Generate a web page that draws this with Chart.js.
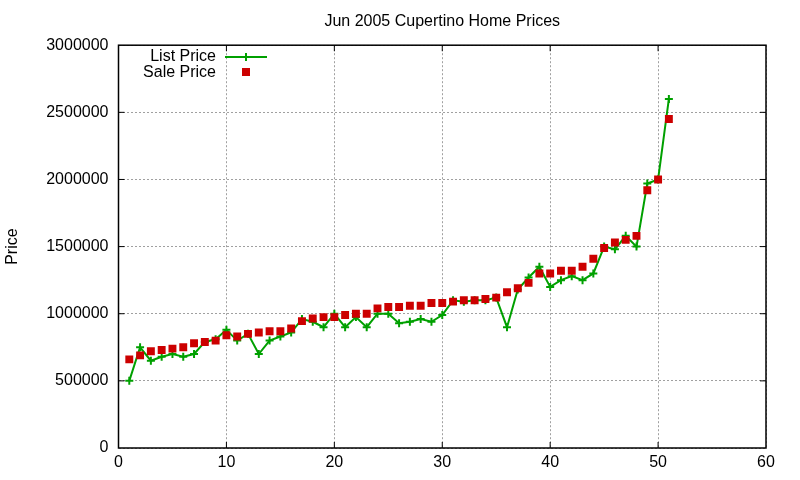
<!DOCTYPE html>
<html>
<head>
<meta charset="utf-8">
<title>Jun 2005 Cupertino Home Prices</title>
<script src="https://cdn.jsdelivr.net/npm/chart.js@4/dist/chart.umd.min.js"></script>
<style>
  html, body { margin: 0; padding: 0; background: #fff; }
  #wrap { width: 800px; height: 480px; }
</style>
</head>
<body>
<div id="wrap"><canvas id="chart" width="800" height="480"></canvas></div>
<script>
// listing index (x) and prices
const houses = [1, 2, 3, 4, 5, 6, 7, 8, 9, 10, 11, 12, 13, 14, 15, 16, 17, 18, 19, 20,
  21, 22, 23, 24, 25, 26, 27, 28, 29, 30, 31, 32, 33, 34, 35, 36, 37, 38, 39, 40,
  41, 42, 43, 44, 45, 46, 47, 48, 49, 50, 51];

const listPrice = [500000, 750000, 650000, 680000, 700000, 680000, 700000, 790000, 810000, 880000,
  800000, 850000, 700000, 800000, 830000, 860000, 960000, 940000, 900000, 1000000,
  900000, 975000, 900000, 1000000, 1000000, 930000, 940000, 960000, 940000, 990000,
  1100000, 1090000, 1100000, 1100000, 1120000, 900000, 1180000, 1270000, 1350000, 1200000,
  1250000, 1280000, 1250000, 1300000, 1500000, 1480000, 1580000, 1500000, 1970000, 2000000,
  2600000];

const salePrice = [660000, 690000, 720000, 730000, 740000, 750000, 780000, 790000, 800000, 840000,
  830000, 850000, 860000, 870000, 870000, 890000, 945000, 965000, 975000, 975000,
  990000, 1000000, 1000000, 1040000, 1050000, 1050000, 1060000, 1060000, 1080000, 1080000,
  1090000, 1100000, 1100000, 1110000, 1120000, 1160000, 1190000, 1230000, 1300000, 1300000,
  1320000, 1320000, 1350000, 1410000, 1490000, 1530000, 1550000, 1580000, 1920000, 2000000,
  2450000];

const xTicks = [0, 10, 20, 30, 40, 50, 60];
const yTicks = [0, 500000, 1000000, 1500000, 2000000, 2500000, 3000000];

const GREEN = '#00a000';
const RED = '#cc0000';

Chart.defaults.font.family = '"Liberation Sans", Arial, sans-serif';
Chart.defaults.font.size = 16;
Chart.defaults.color = '#000';

// gnuplot style frame: full box, inward ticks on all sides, key top-left
const framePlugin = {
  id: 'frame',
  afterDraw(chart) {
    const { ctx, chartArea: a, scales } = chart;
    ctx.save();
    ctx.setLineDash([]);
    ctx.strokeStyle = '#000';
    ctx.lineWidth = 1.5;
    ctx.strokeRect(a.left, a.top, a.right - a.left, a.bottom - a.top);

    ctx.lineWidth = 1;
    ctx.beginPath();
    xTicks.slice(1, -1).forEach(v => {
      const px = scales.x.getPixelForValue(v);
      ctx.moveTo(px, a.bottom); ctx.lineTo(px, a.bottom - 6);
      ctx.moveTo(px, a.top); ctx.lineTo(px, a.top + 6);
    });
    yTicks.slice(1, -1).forEach(v => {
      const py = scales.y.getPixelForValue(v);
      ctx.moveTo(a.left, py); ctx.lineTo(a.left + 6, py);
      ctx.moveTo(a.right, py); ctx.lineTo(a.right - 6, py);
    });
    ctx.stroke();

    // key
    ctx.font = '16px "Liberation Sans", Arial, sans-serif';
    ctx.fillStyle = '#000';
    ctx.textAlign = 'right';
    ctx.textBaseline = 'alphabetic';
    ctx.fillText('List Price', 216, 61);
    ctx.fillText('Sale Price', 216, 77);

    ctx.strokeStyle = GREEN;
    ctx.lineWidth = 2;
    ctx.beginPath();
    ctx.moveTo(225, 57); ctx.lineTo(267, 57);
    ctx.moveTo(246, 53); ctx.lineTo(246, 61);
    ctx.stroke();

    ctx.fillStyle = RED;
    ctx.fillRect(242, 68, 8, 8);
    ctx.restore();
  }
};

new Chart(document.getElementById('chart'), {
  type: 'line',
  data: {
    datasets: [
      {
        label: 'List Price',
        data: houses.map((h, i) => ({ x: h, y: listPrice[i] })),
        borderColor: GREEN,
        backgroundColor: GREEN,
        borderWidth: 2,
        pointStyle: 'cross',
        pointRadius: 4,
        pointBorderWidth: 2,
        tension: 0,
        order: 1
      },
      {
        label: 'Sale Price',
        data: houses.map((h, i) => ({ x: h, y: salePrice[i] })),
        showLine: false,
        borderColor: RED,
        backgroundColor: RED,
        pointStyle: 'rect',
        pointRadius: 5.6,
        pointBorderWidth: 0,
        order: 0
      }
    ]
  },
  options: {
    responsive: false,
    animation: false,
    events: [],
    layout: { padding: { left: 0, right: 34, top: 0, bottom: 0 } },
    plugins: {
      legend: { display: false },
      tooltip: { enabled: false },
      title: {
        display: true,
        text: 'Jun 2005 Cupertino Home Prices',
        fullSize: false,
        font: { size: 16, weight: 'normal' },
        padding: { top: 12, bottom: 14 }
      }
    },
    scales: {
      x: {
        type: 'linear',
        min: 0,
        max: 60,
        afterFit: s => { s.height = 32; },
        afterBuildTicks: s => { s.ticks = xTicks.map(v => ({ value: v })); },
        ticks: { padding: 5, maxRotation: 0, callback: v => String(v) },
        grid: { color: '#a0a0a0', lineWidth: 1, drawTicks: false },
        border: { display: false, dash: [2, 2] }
      },
      y: {
        min: 0,
        max: 3000000,
        afterFit: s => { s.width = 118.5; },
        afterBuildTicks: s => { s.ticks = yTicks.map(v => ({ value: v })); },
        ticks: { padding: 10, callback: v => String(v) },
        grid: { color: '#a0a0a0', lineWidth: 1, drawTicks: false },
        border: { display: false, dash: [2, 2] },
        title: { display: true, text: 'Price', font: { size: 16 }, padding: { top: 3, bottom: 0 } }
      }
    }
  },
  plugins: [framePlugin]
});
</script>
</body>
</html>
